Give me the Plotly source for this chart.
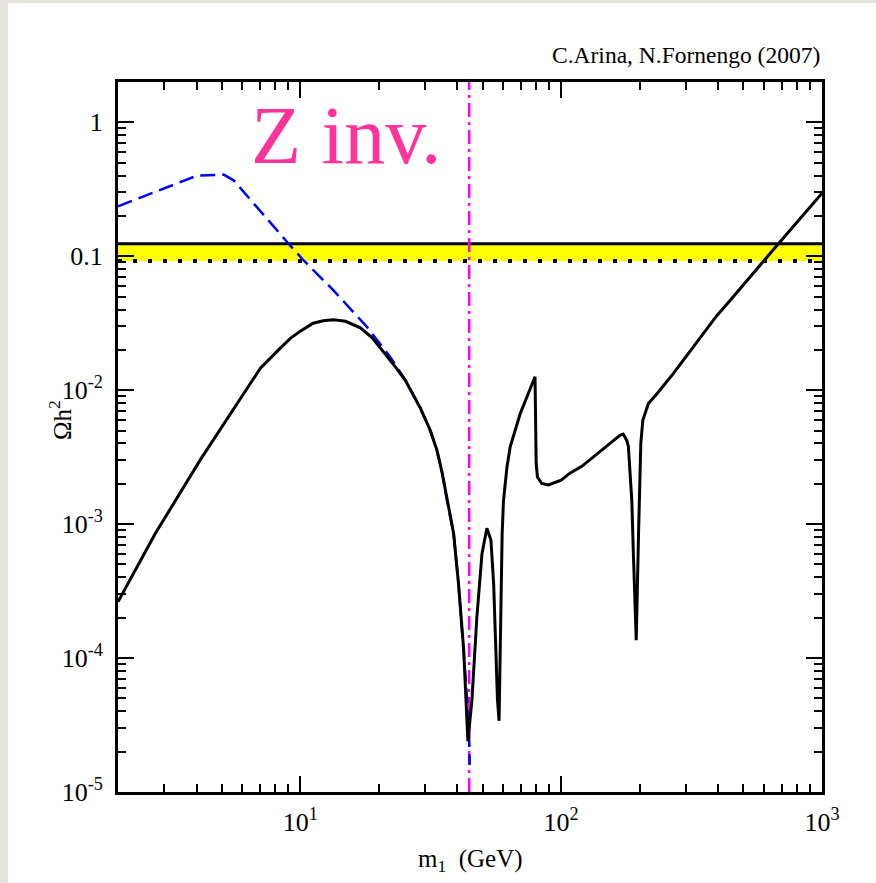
import numpy as np
import plotly.graph_objects as go

# ---------------- data ----------------
m_total = [2.0, 2.78, 4.14, 7.03, 8.38, 9.16, 10.0, 11.2, 12.25, 13.4, 14.9, 17.0,
           18.9, 21.2, 23.1, 25.3, 28.8, 31.5, 33.4, 35.0, 36.5, 38.7, 40.4, 42.3,
           43.9, 45.5, 47.5, 49.7, 51.9, 53.8, 55.1, 55.9, 57.0, 57.8, 58.7, 59.4,
           60.1, 62.0, 63.8, 66.7, 69.7, 73.9, 79.4, 80.2, 81.1, 84.3, 89.4, 100.0,
           108.0, 120.0, 168.0, 173.0, 178.5, 181.0, 184.0, 186.6, 189.0, 194.0,
           198.0, 202.0, 205.6, 210.0, 216.0, 233.0, 269.0, 395.0, 445.0, 678.0,
           1000.0]
omega_total = [2.63e-4, 8.5e-4, 3.03e-3, 0.0146, 0.0206, 0.0244, 0.0276, 0.0316,
               0.033, 0.0336, 0.0327, 0.0292, 0.0245, 0.0187, 0.0150, 0.0118,
               7.4e-3, 5.0e-3, 3.56e-3, 2.4e-3, 1.51e-3, 8.5e-4, 3.6e-4, 1.15e-4,
               2.4e-5, 4.9e-5, 2.0e-4, 6.0e-4, 9.3e-4, 7.6e-4, 3.6e-4, 1.5e-4,
               4.9e-5, 3.4e-5, 2.7e-4, 8.5e-4, 1.5e-3, 2.68e-3, 3.8e-3, 5.0e-3,
               6.7e-3, 8.9e-3, 0.0126, 2.84e-3, 2.25e-3, 2.01e-3, 1.96e-3, 2.13e-3,
               2.4e-3, 2.7e-3, 4.6e-3, 4.7e-3, 4.2e-3, 3.8e-3, 2.4e-3, 1.5e-3,
               6.4e-4, 1.36e-4, 8.5e-4, 4.0e-3, 5.97e-3, 6.7e-3, 7.95e-3, 9.4e-3,
               0.0133, 0.036, 0.047, 0.123, 0.295]

m_dashed = [2.0, 4.02, 5.08, 5.55, 9.02, 10.3, 13.4, 18.0, 22.1, 24.2, 25.3, 28.8,
            31.5, 33.4, 35.0, 36.5, 38.7, 40.4, 42.3, 44.2, 44.6]
omega_dashed = [0.236, 0.40, 0.407, 0.369, 0.124, 0.093, 0.0557, 0.0297, 0.0177,
                0.0135, 0.0119, 7.4e-3, 5.0e-3, 3.56e-3, 2.4e-3, 1.51e-3, 8.5e-4,
                3.6e-4, 1.15e-4, 3.44e-5, 1.6e-5]

wmap_low = 0.092
wmap_high = 0.124
z_inv_mass = 44.4

x_range = [2.0, 1000.0]
y_range = [1e-5, 2.0]

x_major = [10, 100, 1000]
x_major_text = ["10<sup>1</sup>", "10<sup>2</sup>", "10<sup>3</sup>"]
y_major = [1e-5, 1e-4, 1e-3, 1e-2, 0.1, 1]
y_major_text = ["10<sup>-5</sup>", "10<sup>-4</sup>", "10<sup>-3</sup>",
                "10<sup>-2</sup>", "0.1", "1"]

x_minor = [k * 10 ** d for d in range(0, 3) for k in range(2, 10) if 2 < k * 10 ** d < 1000]
y_minor = [k * 10.0 ** d for d in range(-5, 1) for k in range(2, 10)]

# ---------------- figure ----------------
SERIF = "Liberation Serif, Times New Roman, serif"
fig = go.Figure()

# WMAP band
fig.add_trace(go.Scatter(x=x_range, y=[wmap_low] * 2, mode="lines",
                         line=dict(width=0, color="rgba(0,0,0,0)"),
                         showlegend=False, hoverinfo="skip"))
fig.add_trace(go.Scatter(x=x_range, y=[wmap_high] * 2, mode="lines",
                         line=dict(width=0, color="rgba(0,0,0,0)"),
                         fill="tonexty", fillcolor="#ffff00",
                         showlegend=False, hoverinfo="skip"))
fig.add_trace(go.Scatter(x=x_range, y=[wmap_low] * 2, mode="lines",
                         line=dict(width=4, color="black", dash="4px,11px"),
                         showlegend=False))
fig.add_trace(go.Scatter(x=x_range, y=[wmap_high] * 2, mode="lines",
                         line=dict(width=3, color="black"),
                         showlegend=False))

# Z invisible width line
fig.add_trace(go.Scatter(x=[z_inv_mass, z_inv_mass], y=y_range, mode="lines",
                         line=dict(width=2.5, color="#ff00ff", dash="14px,5px,3px,5px"),
                         showlegend=False))

# dashed blue curve
fig.add_trace(go.Scatter(x=m_dashed, y=omega_dashed, mode="lines",
                         line=dict(width=2.5, color="#0000ff", dash="15px,7px"),
                         showlegend=False))
# solid black curve
fig.add_trace(go.Scatter(x=m_total, y=omega_total, mode="lines",
                         line=dict(width=3, color="black"),
                         showlegend=False))

axis_common = dict(
    type="log", showline=True, linewidth=3, linecolor="black", mirror="ticks",
    ticks="inside", ticklen=16, tickwidth=1.5, tickcolor="black",
    showgrid=False, zeroline=False,
    tickfont=dict(family=SERIF, size=26, color="black"),
    tickmode="array",
)

fig.update_xaxes(**axis_common, range=[np.log10(x_range[0]), np.log10(x_range[1])],
                 tickvals=x_major, ticktext=x_major_text, ticklabelstandoff=5,
                 minor=dict(tickmode="array", tickvals=x_minor, ticks="inside",
                            ticklen=8, tickwidth=1.5, tickcolor="black", showgrid=False))
fig.update_yaxes(**axis_common, range=[np.log10(y_range[0]), np.log10(y_range[1])],
                 tickvals=y_major, ticktext=y_major_text, ticklabelstandoff=7,
                 minor=dict(tickmode="array", tickvals=y_minor, ticks="inside",
                            ticklen=8, tickwidth=1.5, tickcolor="black", showgrid=False))

W, H = 876, 883
L, R, T, B = 118, 54, 82, 91
pw, ph = W - L - R, H - T - B


def px(xp):
    return (xp - L) / pw


def py(yp):
    return (H - B - yp) / ph


annotations = [
    dict(text="C.Arina, N.Fornengo (2007)", x=1.0, xanchor="right", y=py(55),
         yanchor="middle", font=dict(family=SERIF, size=23.5, color="black")),
    dict(text="Z inv.", x=px(249), xanchor="left", y=py(135), yanchor="middle",
         font=dict(family=SERIF, size=82, color="#ff3399")),
    dict(text="Ωh<sup>2</sup>", x=px(60), xanchor="center", y=py(420),
         yanchor="middle", textangle=-90,
         font=dict(family=SERIF, size=25, color="black")),
    dict(text="m<sub>1</sub>  (GeV)", x=px(470), xanchor="center", y=py(860),
         yanchor="middle", font=dict(family=SERIF, size=25, color="black")),
]
for a in annotations:
    a.update(xref="paper", yref="paper", showarrow=False)

fig.update_layout(
    width=W, height=H,
    margin=dict(l=L, r=R, t=T, b=B),
    paper_bgcolor="#e6e3de",
    plot_bgcolor="white",
    annotations=annotations,
    shapes=[dict(type="rect", xref="paper", yref="paper", layer="below",
                 x0=px(8), x1=px(W + 5), y0=py(H + 5), y1=py(3),
                 fillcolor="white", line=dict(width=0))],
    showlegend=False,
)

fig.write_html("out.html")
